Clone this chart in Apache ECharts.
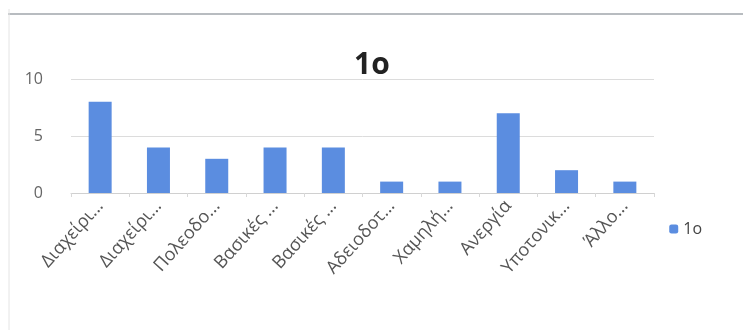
<!DOCTYPE html>
<html><head><meta charset="utf-8">
<script src="https://cdn.jsdelivr.net/npm/echarts@6/dist/echarts.min.js"></script>
<style>html,body{margin:0;padding:0;background:#fff}#c{width:743px;height:330px}</style>
</head><body><div id="c"></div>
<script>
const categories = ["Διαχείρι...", "Διαχείρι...", "Πολεοδο...", "Βασικές ...", "Βασικές ...", "Αδειοδοτ...", "Χαμηλή...", "Ανεργία", "Υποτονικ...", "Άλλο..."];
const values = [8, 4, 3, 4, 4, 1, 1, 7, 2, 1];
const seriesName = "1ο";
const yTicks = [0, 5, 10];

const chart = echarts.init(document.getElementById('c'));
chart.setOption({
  animation: false,
  backgroundColor: '#fff',
  title: { text: seriesName, left: 349, top: 45, textStyle: { fontFamily: 'Open Sans', fontWeight: 'bold', fontSize: 30, color: '#222' } },
  legend: { right: 36, top: 216, itemWidth: 9, itemHeight: 9, itemGap: 7,
    textStyle: { fontFamily: 'Open Sans', fontSize: 16, color: '#444' }, data: [seriesName] },
  grid: { left: 71, right: 89, top: 79, bottom: 137 },
  xAxis: { type: 'category', data: categories,
    axisLine: { lineStyle: { color: '#d0d0d0', width: 1 } },
    axisTick: { show: true, length: 4, lineStyle: { color: '#d8d8d8' } },
    axisLabel: { rotate: 48, interval: 0, margin: 10, fontFamily: 'Open Sans', fontSize: 18, color: '#555' } },
  yAxis: { type: 'value', min: yTicks[0], max: yTicks[yTicks.length-1], interval: 5,
    axisLine: { show: false }, axisTick: { show: false },
    axisLabel: { margin: 28, fontFamily: 'Open Sans', fontSize: 16, color: '#666' },
    splitLine: { lineStyle: { color: '#dcdcdc' } } },
  series: [{ name: seriesName, type: 'bar', data: values, barWidth: 23,
    itemStyle: { color: '#5b8de0' } }],
  graphic: [
    { type: 'line', shape: { x1: 8, y1: 14, x2: 743, y2: 14 }, style: { stroke: '#b8bcc0', lineWidth: 2 } },
    { type: 'line', shape: { x1: 9, y1: 9, x2: 9, y2: 330 }, style: { stroke: '#e4e4e4', lineWidth: 1 } }
  ]
});
</script></body></html>
